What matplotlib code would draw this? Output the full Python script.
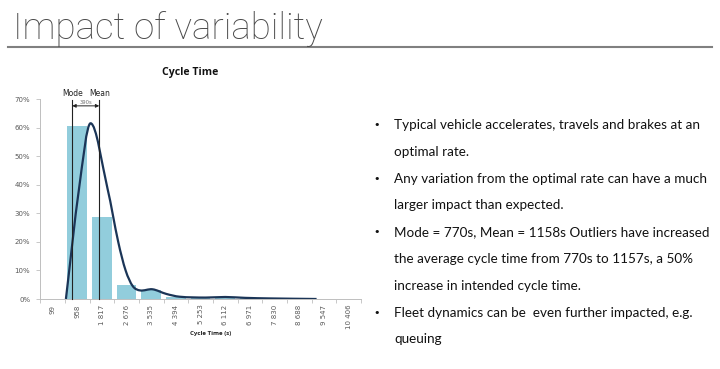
import matplotlib.pyplot as plt
import numpy as np
from matplotlib.path import Path
from matplotlib.patches import PathPatch

# histogram data
categories = ["99", "958", "1 817", "2 676", "3 535", "4 394", "5 253", "6 112",
              "6 971", "7 830", "8 688", "9 547", "10 406"]
bar_pct = [0, 60.5, 28.8, 4.8, 3.0, 0.7, 0.3, 0.3, 0.25, 0.15, 0.1, 0, 0]

# smoothed distribution curve (category index, %)
curve_x = [0.54, 1.07, 1.54, 2.23, 2.66, 2.96, 3.25, 3.55, 4.05, 4.6, 5.15,
           6.2, 7.0, 7.8, 8.8, 10.7]
curve_y = [0, 38.5, 61.5, 38.5, 20, 10, 4.5, 3.0, 3.4, 1.8, 0.8,
           0.5, 0.7, 0.4, 0.2, 0]

mode_pos = 0.80
mean_pos = 1.89
gap_label = "390s"

bullets = [
    ["Typical vehicle accelerates, travels and brakes at an", "optimal rate."],
    ["Any variation from the optimal rate can have a much", "larger impact than expected."],
    ["Mode = 770s, Mean = 1158s Outliers have increased",
     "the average cycle time from 770s to 1157s, a 50%",
     "increase in intended cycle time."],
    ["Fleet dynamics can be  even further impacted, e.g.", "queuing"],
]

W, H = 720, 369
fig = plt.figure(figsize=(W / 100, H / 100), dpi=100)


def fx(px):
    return px / W


def fy(py):
    return 1 - py / H


# slide title + rule
fig.text(fx(13), fy(39), "Impact of variability", fontsize=26.5, family="Roboto",
         fontweight="light", color="#4A4A4A", va="baseline", ha="left")
fig.add_artist(plt.Line2D([fx(8), fx(712)], [fy(47), fy(47)], color="#808080", lw=1.5))

# chart
ax = fig.add_axes([fx(40), fy(299), fx(361) - fx(40), fy(99) - fy(299)])
x = np.arange(len(categories))
ax.bar(x, bar_pct, width=0.8, color="#92CDDC", zorder=1)


def smooth_path(xs, ys):
    xs = np.asarray(xs, float)
    ys = np.asarray(ys, float)
    n = len(xs)
    m = np.zeros(n)
    m[0] = (ys[1] - ys[0]) / (xs[1] - xs[0])
    m[-1] = (ys[-1] - ys[-2]) / (xs[-1] - xs[-2])
    for i in range(1, n - 1):
        m[i] = (ys[i + 1] - ys[i - 1]) / (xs[i + 1] - xs[i - 1])
    verts = [(xs[0], ys[0])]
    codes = [Path.MOVETO]
    for i in range(n - 1):
        h = xs[i + 1] - xs[i]
        verts += [(xs[i] + h / 3, ys[i] + m[i] * h / 3),
                  (xs[i + 1] - h / 3, ys[i + 1] - m[i + 1] * h / 3),
                  (xs[i + 1], ys[i + 1])]
        codes += [Path.CURVE4] * 3
    return Path(verts, codes)


ax.add_patch(PathPatch(smooth_path(curve_x, curve_y), fill=False,
                       edgecolor="#1B3557", lw=1.6, zorder=3))

# mode / mean markers
for pos, lab in [(mode_pos, "Mode"), (mean_pos, "Mean")]:
    ax.plot([pos, pos], [0, 69.7], color="#222222", lw=0.8, zorder=4, clip_on=False)
    ax.text(pos, 70.3, lab, ha="center", va="bottom", fontsize=5.5, color="#222222")
ax.annotate("", xy=(mode_pos, 67.6), xytext=(mean_pos, 67.6),
            arrowprops=dict(arrowstyle="<|-|>", color="#222222", lw=0.7,
                            mutation_scale=5, shrinkA=0, shrinkB=0), annotation_clip=False)
ax.text((mode_pos + mean_pos) / 2, 68.0, gap_label, ha="center", va="bottom",
        fontsize=3.8, color="#707070")

ax.set_xlim(-0.51, len(categories) - 0.5)
ax.set_ylim(0, 70)
ax.set_yticks(np.arange(0, 71, 10))
ax.set_yticklabels([f"{v}%" for v in range(0, 71, 10)])
ax.set_xticks(x)
ax.set_xticklabels(categories, rotation=90)
ax.set_xticks(np.arange(-0.5, len(categories), 1), minor=True)
ax.tick_params(axis="x", which="major", length=0, labelsize=5, labelcolor="#595959", pad=4)
ax.tick_params(axis="x", which="minor", length=3, color="#BFBFBF", width=0.6)
ax.tick_params(axis="y", length=3, color="#BFBFBF", width=0.6, labelsize=5,
               labelcolor="#595959", pad=4)
for s in ["top", "right"]:
    ax.spines[s].set_visible(False)
for s in ["left", "bottom"]:
    ax.spines[s].set_color("#BFBFBF")
    ax.spines[s].set_linewidth(0.7)

fig.text(fx(190), fy(73), "Cycle Time", ha="center", va="center", fontsize=7.6,
         fontweight="bold", family="Open Sans", color="#111111")
fig.text(fx(211), fy(333), "Cycle Time (s)", ha="center", va="center", fontsize=4.4,
         fontweight="bold", family="Open Sans", color="#222222")

# bullet text
line_y = 125
step = 26.8
for block in bullets:
    fig.text(fx(377), fy(line_y), "\u2022", ha="center", va="center", fontsize=8,
             color="#111111")
    for line in block:
        fig.text(fx(394), fy(line_y), line, ha="left", va="center", fontsize=9.7,
                 family="Lato", color="#111111")
        line_y += step

fig.savefig("out.png", dpi=100)
